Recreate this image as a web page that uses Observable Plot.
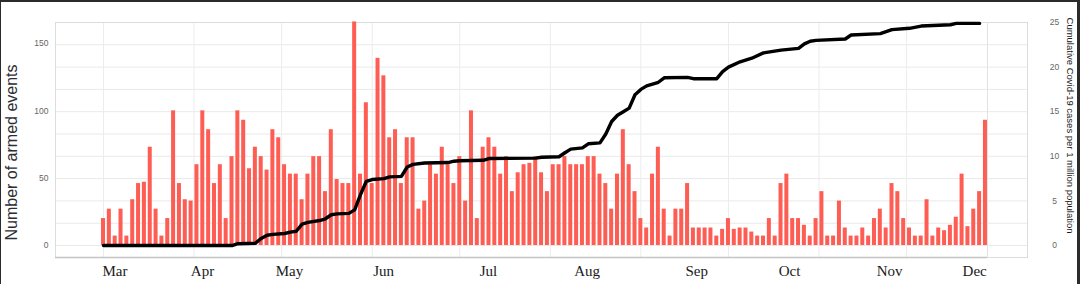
<!DOCTYPE html>
<html><head><meta charset="utf-8">
<script src="https://cdn.jsdelivr.net/npm/d3@7"></script>
<script src="https://cdn.jsdelivr.net/npm/@observablehq/plot@0.6"></script>
<style>
html,body{margin:0;padding:0;background:#fff;}
#wrap{position:relative;width:1080px;height:284px;overflow:hidden;background:#fff;}
#wrap svg{display:block;}
#border{position:absolute;left:0;top:0;width:1080px;height:284px;box-sizing:border-box;border-top:2px solid #2b2b2b;border-left:1px solid #2b2b2b;border-right:3px solid #2b2b2b;pointer-events:none;}
</style></head><body>
<div id="wrap"><div id="border"></div></div>
<script>
const DAY = 864e5;
const startDate = Date.UTC(2020, 2, 1); // first bar: 1 March 2020, one bar every 2 days

// Number of armed events (one bar per 2 days)
const armedEvents = [
  20, 27, 7, 27, 7, 34, 46, 47, 73, 27, 7, 20, 100, 46, 34, 33, 60, 100, 86, 46,
  60, 20, 66, 100, 93, 57, 73, 66, 56, 86, 80,
  60, 53, 53, 34, 53, 66, 66, 40, 86, 49, 46, 46, 166, 53, 106, 46, 139, 126, 80,
  86, 46, 80, 80, 27, 33, 60, 53, 73, 60,
  46, 66, 33, 100, 20, 73, 80, 73, 53, 66, 40, 54, 60, 61, 66, 54, 40, 60, 60, 66,
  60, 60, 60, 66, 66, 53, 46, 27, 53, 86, 60,
  40, 20, 13, 53, 73, 27, 7, 27, 27, 46, 13, 13, 13, 13, 7, 12, 20, 12, 13, 13,
  10, 7, 7, 20, 7, 46, 53, 20, 20, 15, 7,
  20, 40, 7, 7, 33, 13, 7, 7, 13, 7, 20, 27, 13, 46, 40, 20, 13, 7, 7, 34,
  7, 13, 11, 15, 21, 53, 14, 27, 40, 93
];

// Cumulative Covid-19 cases per 1 million population, at bar index
const covidIdx = [0, 22, 23, 26, 27, 28, 29, 31, 32, 33, 34, 35, 37, 38, 39, 40, 42, 43, 44, 45,
  46, 48, 49, 51, 52, 53, 55, 59, 60, 61, 65, 66, 74, 75, 78, 79, 80, 82, 83, 85,
  86, 87, 88, 89, 90, 91, 92, 93, 95, 96, 100, 101, 105, 106, 107, 109, 111, 113, 116, 119,
  120, 121, 122, 127, 128, 133, 135, 138, 140, 145, 146, 150];
const covidCum = [0, 0, 0.2, 0.25, 0.8, 1.15, 1.25, 1.35, 1.5, 1.6, 2.4, 2.6, 2.8, 3.0, 3.45, 3.55, 3.6, 4.0, 5.7, 7.2,
  7.4, 7.5, 7.7, 7.75, 8.8, 9.1, 9.25, 9.3, 9.45, 9.5, 9.55, 9.75, 9.8, 9.9, 9.95, 10.4, 10.8, 10.95, 11.4, 11.5,
  12.5, 13.9, 14.6, 15.0, 15.4, 16.9, 17.5, 17.9, 18.3, 18.8, 18.85, 18.7, 18.7, 19.5, 20.0, 20.6, 21.0, 21.6, 21.9, 22.1,
  22.6, 22.9, 23.0, 23.15, 23.6, 23.75, 24.2, 24.35, 24.6, 24.75, 24.9, 24.9];

// Month labels as placed under the chart (days after 1 March)
const monthLabels = ["Mar", "Apr", "May", "Jun", "Jul", "Aug", "Sep", "Oct", "Nov", "Dec"];
const monthLabelDay = [3.9, 33.9, 63.7, 95.9, 131.8, 165.6, 203.1, 234.9, 269.2, 298.3];

const leftTicks = [0, 50, 100, 150];
const rightTicks = [0, 5, 10, 15, 20, 25];
const rightGrid = [0, 2.5, 5, 7.5, 10, 12.5, 15, 17.5, 20, 22.5, 25];
const rightMax = 25, leftAtRightMax = 165.6; // both axes share the frame
const ratio = leftAtRightMax / rightMax;

const barDate = i => new Date(startDate + 2 * i * DAY);
const events = armedEvents.map((v, i) => ({date: barDate(i), v}));
const covid = covidIdx.map((k, i) => ({date: barDate(k), c: covidCum[i]}));
const months = d3.utcMonths(new Date(startDate), new Date(Date.UTC(2020, 11, 2)));
const innerEdge = new Date(+barDate(armedEvents.length - 1) + 0.7 * DAY);
const xDomain = [new Date(startDate - 16.44 * DAY), new Date(startDate + 316.4 * DAY)];
const yDomain = [-8.9, leftAtRightMax];

const plot = Plot.plot({
  width: 1080, height: 284,
  marginLeft: 55, marginRight: 53, marginTop: 22, marginBottom: 27,
  style: {fontFamily: "Liberation Sans, Arial, sans-serif", background: "transparent"},
  x: {type: "utc", domain: xDomain, axis: null},
  y: {domain: yDomain, axis: null},
  marks: [
    Plot.gridY(rightGrid.map(v => v * ratio), {stroke: "#e9e9e9", strokeOpacity: 1}),
    Plot.gridX(months, {stroke: "#ececec", strokeOpacity: 1}),
    Plot.frame({stroke: "#dcdcdc"}),
    Plot.ruleX([innerEdge], {stroke: "#e2e2e2"}),
    Plot.ruleY([yDomain[0]], {x1: xDomain[0], x2: innerEdge, stroke: "#c4c4c4", strokeWidth: 1.5}),
    Plot.rectY(events, {
      x1: d => new Date(+d.date - 0.685 * DAY),
      x2: d => new Date(+d.date + 0.685 * DAY),
      y: "v", fill: "#fe5d54"
    }),
    Plot.line(covid, {x: "date", y: d => d.c * ratio, stroke: "#000", strokeWidth: 3.4,
      strokeLinejoin: "round", strokeLinecap: "round"}),
    Plot.text(leftTicks, {y: d => d, text: d => String(d), frameAnchor: "left", dx: -7,
      textAnchor: "end", fontSize: 8.5, fill: "#666"}),
    Plot.text(rightTicks, {y: d => d * ratio, text: d => String(d), frameAnchor: "right", dx: 27,
      textAnchor: "middle", fontSize: 8.5, fill: "#666"}),
    Plot.text(["Number of armed events"], {text: d => d, frameAnchor: "left", dx: -44, dy: 12.5,
      rotate: -90, textAnchor: "middle", fontSize: 16, fill: "#2a2d34"}),
    Plot.text(["Cumulative Covid-19 cases per 1 million population"], {text: d => d, frameAnchor: "right",
      dx: 43, dy: -14.5, rotate: 90, textAnchor: "middle", fontSize: 9.5, fill: "#1a1a1a"}),
    Plot.text(monthLabels, {x: (d, i) => new Date(startDate + monthLabelDay[i] * DAY), text: d => d,
      frameAnchor: "bottom", dy: 18, fontFamily: "Liberation Serif, Times New Roman, serif",
      fontSize: 15, fill: "#1a1a1a"})
  ]
});
const wrap = document.getElementById("wrap");
wrap.insertBefore(plot, document.getElementById("border"));
</script>
</body></html>
